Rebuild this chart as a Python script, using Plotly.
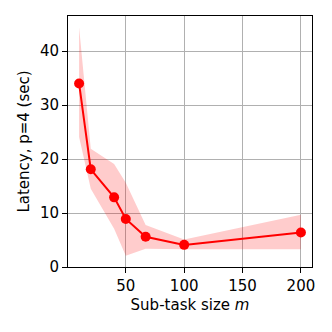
import plotly.graph_objects as go

# sub-task size m and measured latency (sec) at p=4
m_sizes = [10, 20, 40, 50, 67, 100, 200]
latency_mean = [34.0, 18.1, 12.9, 8.9, 5.6, 4.1, 6.4]
latency_upper = [44.4, 21.9, 19.1, 15.6, 7.8, 5.1, 9.7]
latency_lower = [24.1, 14.5, 7.1, 2.1, 3.4, 3.3, 3.3]

x_ticks = [50, 100, 150, 200]
y_ticks = [0, 10, 20, 30, 40]

fig = go.Figure()

# shaded band between lower and upper
fig.add_trace(go.Scatter(x=m_sizes, y=latency_upper, mode='lines',
                         line=dict(width=0), hoverinfo='skip', showlegend=False))
fig.add_trace(go.Scatter(x=m_sizes, y=latency_lower, mode='lines',
                         line=dict(width=0), fill='tonexty',
                         fillcolor='rgba(255,0,0,0.2)', hoverinfo='skip',
                         showlegend=False))

fig.add_trace(go.Scatter(x=m_sizes, y=latency_mean, mode='lines+markers',
                         line=dict(color='red', width=2),
                         marker=dict(color='red', size=10), showlegend=False))

axis_common = dict(showline=True, linecolor='black', linewidth=1, mirror=True,
                   ticks='outside', ticklen=5, tickwidth=1, tickcolor='black',
                   showgrid=True, gridcolor='#b0b0b0', gridwidth=1,
                   zeroline=False,
                   tickfont=dict(family='DejaVu Sans', size=15, color='black'),
                   title_font=dict(family='DejaVu Sans', size=15, color='black'))

fig.update_xaxes(range=[0.5, 209.5], tickvals=x_ticks,
                 title=dict(text='Sub-task size <i>m</i>', standoff=5),
                 **axis_common)
fig.update_yaxes(range=[0, 46.5], tickvals=y_ticks,
                 title=dict(text='Latency, p=4 (sec)', standoff=6),
                 **axis_common)

# page body adds an 8px offset, so the figure is 8px smaller
fig.update_layout(width=324, height=324,
                  margin=dict(l=60, r=20, t=8, b=65),
                  plot_bgcolor='white', paper_bgcolor='white')

fig.write_html('out.html')
